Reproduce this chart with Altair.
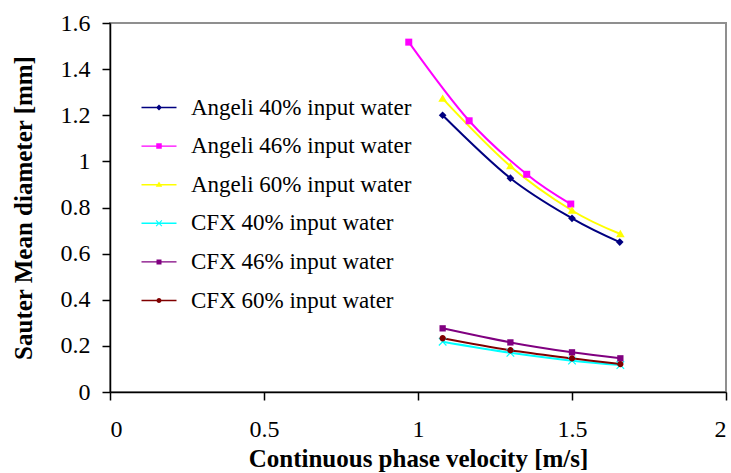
import altair as alt
import pandas as pd

series_names = [
    "Angeli 40% input water",
    "Angeli 46% input water",
    "Angeli 60% input water",
    "CFX 40% input water",
    "CFX 46% input water",
    "CFX 60% input water",
]
series_colors = ["#000080", "#FF00FF", "#FFFF00", "#00FFFF", "#800080", "#800000"]

x_angeli40 = [1.08, 1.30, 1.50, 1.655]
y_angeli40 = [1.200, 0.927, 0.753, 0.650]
x_angeli46 = [0.97, 1.166, 1.353, 1.496]
y_angeli46 = [1.517, 1.176, 0.944, 0.815]
x_angeli60 = [1.08, 1.30, 1.50, 1.657]
y_angeli60 = [1.272, 0.979, 0.787, 0.685]
x_cfx = [1.08, 1.30, 1.50, 1.657]
y_cfx40 = [0.218, 0.170, 0.136, 0.117]
y_cfx46 = [0.276, 0.215, 0.172, 0.146]
y_cfx60 = [0.233, 0.181, 0.146, 0.121]

x_ticks = [0, 0.5, 1, 1.5, 2]
y_ticks = [0, 0.2, 0.4, 0.6, 0.8, 1.0, 1.2, 1.4, 1.6]

# marker shapes (custom SVG paths, unit coordinates)
marker_paths = [
    "M0,-0.55L0.55,0L0,0.55L-0.55,0Z",
    "M-0.5,-0.5H0.5V0.5H-0.5Z",
    "M0,-0.6L0.62,0.45L-0.62,0.45Z",
    "M-0.6,-0.48L-0.48,-0.6L0.6,0.48L0.48,0.6Z M0.48,-0.6L0.6,-0.48L-0.48,0.6L-0.6,0.48Z",
    "M-0.45,-0.45H0.45V0.45H-0.45Z",
    "M0.45,0A0.45,0.45 0 1 1 -0.45,0A0.45,0.45 0 1 1 0.45,0Z",
]
line_seg = "M-3.5,-0.14H3.5V0.14H-3.5Z "
legend_paths = [
    line_seg + "M0,-0.6L0.6,0L0,0.6L-0.6,0Z",
    line_seg + "M-0.55,-0.55H0.55V0.55H-0.55Z",
    line_seg + "M0,-0.65L0.65,0.42L-0.65,0.42Z",
    line_seg + "M-0.65,-0.5L-0.5,-0.65L0.65,0.5L0.5,0.65Z M0.5,-0.65L0.65,-0.5L-0.5,0.65L-0.65,0.5Z",
    line_seg + "M-0.5,-0.5H0.5V0.5H-0.5Z",
    line_seg + "M0.5,0A0.5,0.5 0 1 1 -0.5,0A0.5,0.5 0 1 1 0.5,0Z",
]

xs = [x_angeli40, x_angeli46, x_angeli60, x_cfx, x_cfx, x_cfx]
ys = [y_angeli40, y_angeli46, y_angeli60, y_cfx40, y_cfx46, y_cfx60]
rows = []
for name, xv, yv in zip(series_names, xs, ys):
    for i, (a, b) in enumerate(zip(xv, yv)):
        rows.append({"series": name, "v": a, "d": b, "idx": i})
df = pd.DataFrame(rows)

FONT = "Liberation Serif"

x_enc = alt.X(
    "v:Q",
    scale=alt.Scale(domain=[0, 2], nice=False),
    axis=alt.Axis(
        values=x_ticks,
        format=".1~f",
        title="Continuous phase velocity [m/s]",
        grid=False,
        tickSize=8,
        labelPadding=17,
        titleX=308,
        titleY=66,
        titleAlign="center",
        titleBaseline="middle",
    ),
)
y_enc = alt.Y(
    "d:Q",
    scale=alt.Scale(domain=[0, 1.6], nice=False),
    axis=alt.Axis(
        values=y_ticks,
        format=".1~f",
        title="Sauter Mean diameter [mm]",
        grid=False,
        tickSize=8,
        labelPadding=12,
        titleX=-87,
        titleY=184.5,
        titleAngle=-90,
        titleAlign="center",
        titleBaseline="middle",
    ),
)
color_scale = alt.Scale(domain=series_names, range=series_colors)

base = alt.Chart(df)

lines = base.mark_line(interpolate="cardinal", strokeWidth=2).encode(
    x=x_enc,
    y=y_enc,
    color=alt.Color("series:N", scale=color_scale, legend=None),
    detail="series:N",
    order="idx:Q",
)

points = base.mark_point(filled=True, size=196, opacity=1, strokeWidth=0).encode(
    x="v:Q",
    y="d:Q",
    color=alt.Color("series:N", scale=color_scale, legend=None),
    shape=alt.Shape(
        "series:N",
        scale=alt.Scale(domain=series_names, range=marker_paths),
        legend=None,
    ),
)

legend_cfg = dict(
    title=None,
    orient="none",
    legendX=37.5,
    legendY=73,
    padding=0,
    labelOffset=20.5,
    rowPadding=14.6,
    labelFont=FONT,
    labelFontSize=23,
    labelColor="black",
    symbolStrokeWidth=0,
    symbolOpacity=1,
    labelLimit=400,
)

legend_layer = (
    base.transform_filter("false")
    .mark_point(filled=True, size=196, opacity=1, strokeWidth=0)
    .encode(
        x="v:Q",
        y="d:Q",
        color=alt.Color("series:N", scale=color_scale, legend=alt.Legend(**legend_cfg)),
        shape=alt.Shape(
            "series:N",
            scale=alt.Scale(domain=series_names, range=legend_paths),
            legend=alt.Legend(**legend_cfg),
        ),
    )
)

chart = (
    alt.layer(lines, points, legend_layer)
    .resolve_scale(shape="independent")
    .resolve_legend(color="independent", shape="independent")
    .properties(
        width=616,
        height=369,
        padding={"left": 110, "top": 23, "right": 5, "bottom": 81},
        autosize=alt.AutoSizeParams(type="none"),
        background="white",
    )
    .configure_view(stroke="#8f8f8f", strokeWidth=2)
    .configure_axis(
        domainColor="black",
        domainWidth=1.5,
        tickColor="black",
        tickWidth=1.5,
        labelFont=FONT,
        labelFontSize=24,
        labelColor="black",
        titleFont=FONT,
        titleFontSize=25,
        titleFontWeight="bold",
        titleColor="black",
    )
)

chart.save("out.html", embed_options={"renderer": "svg", "actions": False})
